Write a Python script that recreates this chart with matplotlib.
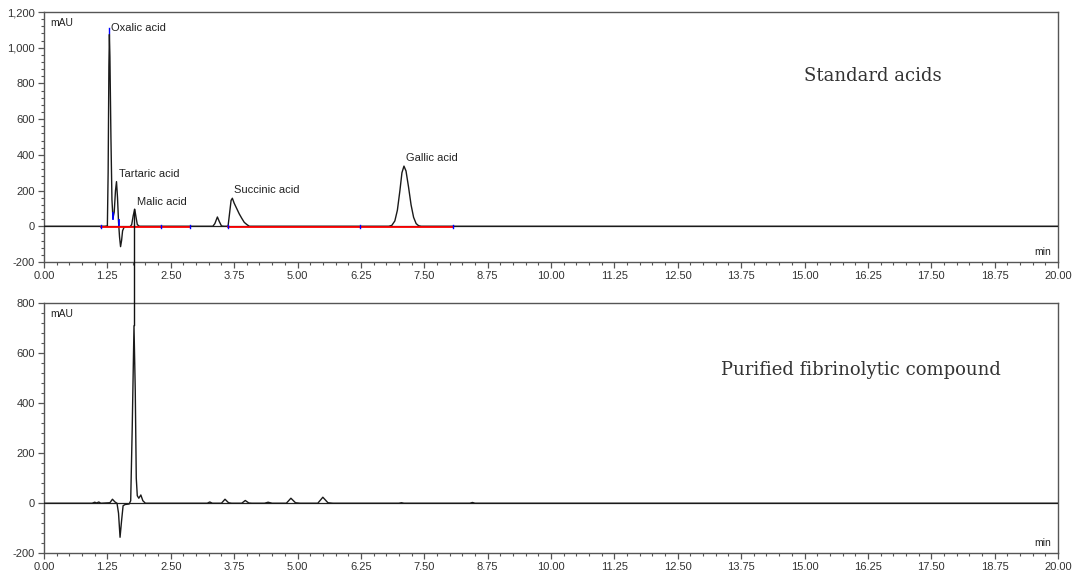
import matplotlib
matplotlib.use("Agg")
import matplotlib.pyplot as plt
from matplotlib.ticker import MultipleLocator, FuncFormatter
from matplotlib.patches import ConnectionPatch

# ---------------- data ----------------
std_time = [0.00, 1.00, 1.20, 1.25, 1.265, 1.28, 1.29, 1.30, 1.32, 1.34, 1.36, 1.385, 1.41, 1.43,
            1.45, 1.47, 1.49, 1.51, 1.53, 1.55, 1.58, 1.62, 1.70, 1.73, 1.76, 1.79, 1.81, 1.84,
            1.88, 2.30, 3.33, 3.37, 3.42, 3.46, 3.50, 3.55, 3.63, 3.655, 3.69, 3.715, 3.75, 3.80,
            3.85, 3.90, 3.95, 4.00, 4.05, 6.80, 6.86, 6.92, 6.97, 7.02, 7.06, 7.10, 7.14, 7.19,
            7.24, 7.29, 7.34, 7.39, 7.44, 20.00]
std_mau = [0, 0, 0, 2, 300, 900, 1075, 950, 500, 150, 45, 80, 200, 250,
           160, 25, -60, -114, -80, -25, -5, -3, -2, 10, 60, 95, 60, 10,
           0, 0, 0, 15, 52, 25, 2, 0, 0, 60, 145, 157, 130, 100,
           70, 45, 22, 10, 0, 0, 5, 30, 90, 200, 300, 337, 310, 220,
           120, 50, 15, 3, 0, 0]

cmp_time = [0.00, 0.95, 1.00, 1.04, 1.08, 1.12, 1.30, 1.35, 1.40, 1.44, 1.47, 1.50, 1.53, 1.56,
            1.60, 1.68, 1.71, 1.74, 1.775, 1.80, 1.82, 1.84, 1.87, 1.91, 1.95, 2.00, 3.22, 3.27,
            3.32, 3.50, 3.57, 3.64, 3.70, 3.90, 3.97, 4.04, 4.10, 4.35, 4.42, 4.50, 4.78, 4.87,
            4.96, 5.05, 5.40, 5.50, 5.60, 5.70, 7.00, 7.05, 7.10, 8.40, 8.45, 8.50, 20.00]
cmp_mau = [0, 0, 4, 1, 5, 0, 2, 16, 5, 0, -40, -136, -70, -10,
           -5, -3, 10, 300, 709, 450, 100, 30, 20, 33, 10, 0, 0, 5,
           0, 0, 16, 2, 0, 0, 11, 1, 0, 0, 4, 0, 0, 20,
           2, 0, 0, 24, 2, 0, 0, 2, 0, 0, 3, 0, 0]

# integration baselines (red) and their boundary markers (blue)
baseline_segments = [(1.12, 2.30), (2.30, 2.88), (3.63, 6.23), (6.23, 8.07)]
boundary_times = [1.12, 2.30, 2.88, 3.63, 6.23, 8.07]

peak_names = ["Oxalic acid", "Tartaric acid", "Malic acid", "Succinic acid", "Gallic acid"]
peak_label_time = [1.32, 1.48, 1.83, 3.75, 7.14]
peak_label_mau = [1110, 293, 138, 204, 383]

link_time = 1.785
link_top_mau = 95
link_bottom_mau = 709

x_ticks = [0.00, 1.25, 2.50, 3.75, 5.00, 6.25, 7.50, 8.75, 10.00, 11.25, 12.50,
           13.75, 15.00, 16.25, 17.50, 18.75, 20.00]

panel_titles = ["Standard acids", "Purified fibrinolytic compound"]

# ---------------- figure ----------------
W, H = 1072, 576
fig = plt.figure(figsize=(W / 100, H / 100), dpi=100)
ax1 = fig.add_axes([44 / W, 1 - 262 / H, (1058 - 44) / W, 250 / H])
ax2 = fig.add_axes([44 / W, 1 - 553.3 / H, (1058 - 44) / W, 250.3 / H])

spine_c = "#555555"
tick_c = "#333333"
sans = "Liberation Sans"

def style(ax, ylo, yhi, ystep):
    ax.set_xlim(0, 20)
    ax.set_ylim(ylo, yhi)
    ax.set_xticks(x_ticks)
    ax.xaxis.set_major_formatter(FuncFormatter(lambda v, p: f"{v:.2f}"))
    ax.xaxis.set_minor_locator(MultipleLocator(0.25))
    ax.yaxis.set_major_locator(MultipleLocator(ystep))
    ax.yaxis.set_minor_locator(MultipleLocator(ystep / 5))
    ax.yaxis.set_major_formatter(FuncFormatter(lambda v, p: f"{v:,.0f}"))
    for s in ax.spines.values():
        s.set_color(spine_c)
        s.set_linewidth(1.0)
    ax.tick_params(which="major", direction="out", length=4.5, width=0.9,
                   color=spine_c, labelsize=8, labelcolor=tick_c, pad=2)
    ax.tick_params(which="minor", direction="out", length=2.2, width=0.8, color=spine_c)
    for lab in ax.get_xticklabels() + ax.get_yticklabels():
        lab.set_fontfamily(sans)
    ax.axhline(0, color="#222222", lw=0.9, zorder=1)
    ax.text(0.006, 0.975, "mAU", transform=ax.transAxes, ha="left", va="top",
            fontsize=7.5, family=sans, color="#222222")
    ax.text(0.993, 0.02, "min", transform=ax.transAxes, ha="right", va="bottom",
            fontsize=7.5, family=sans, color="#222222")

style(ax1, -200, 1200, 200)
style(ax2, -200, 800, 200)

# traces
ax1.plot(std_time, std_mau, color="#1a1a1a", lw=1.0, zorder=3)
ax2.plot(cmp_time, cmp_mau, color="#1a1a1a", lw=1.0, zorder=3)

# integration baselines
for a, b in baseline_segments:
    ax1.plot([a, b], [-3, -3], color="#ff0000", lw=1.3, zorder=4)
for t in boundary_times:
    ax1.plot([t, t], [-12, 6], color="#0000ff", lw=1.0, zorder=5)
# blue peak markers on the early peaks
ax1.plot([1.29, 1.29], [1080, 1110], color="#0000ff", lw=1.0, zorder=5)
ax1.plot([1.36, 1.36], [40, 75], color="#0000ff", lw=1.3, zorder=5)
ax1.plot([1.47, 1.47], [10, 35], color="#0000ff", lw=1.3, zorder=5)

# peak labels
for name, t, v in zip(peak_names, peak_label_time, peak_label_mau):
    ax1.text(t, v, name, ha="left", va="center", fontsize=8, family=sans, color="#222222")

# panel titles
ax1.text(0.817, 0.745, panel_titles[0], transform=ax1.transAxes, ha="center", va="center",
         fontsize=13, family="DejaVu Serif", color="#333333")
ax2.text(0.806, 0.733, panel_titles[1], transform=ax2.transAxes, ha="center", va="center",
         fontsize=13, family="DejaVu Serif", color="#333333")

# link line between malic acid peak and compound peak
con = ConnectionPatch(xyA=(link_time, link_top_mau), coordsA=ax1.transData,
                      xyB=(link_time, link_bottom_mau), coordsB=ax2.transData,
                      color="#111111", lw=1.0, zorder=10)
fig.add_artist(con)

fig.savefig("out.png", dpi=100)
